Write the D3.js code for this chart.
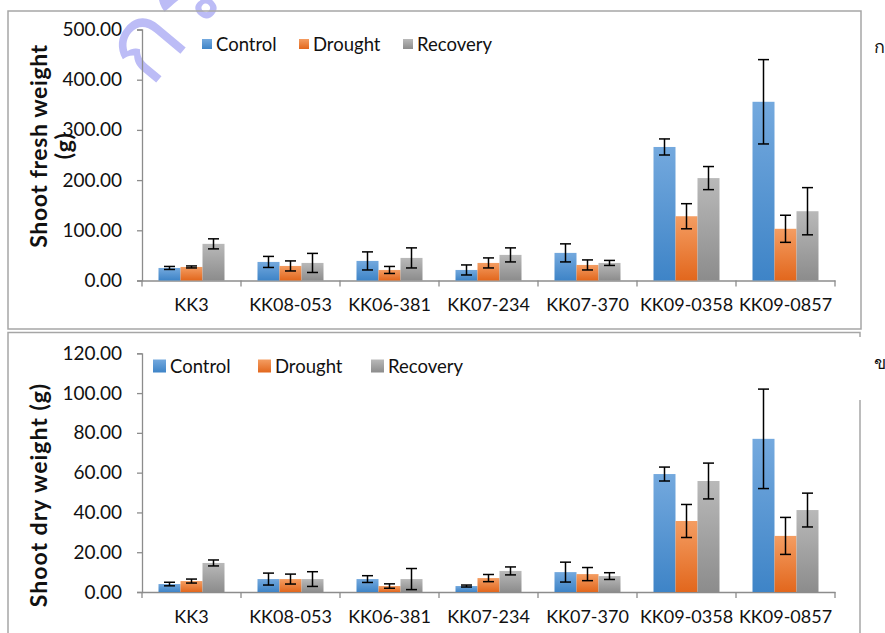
<!DOCTYPE html>
<html>
<head>
<meta charset="utf-8">
<script src="https://cdn.jsdelivr.net/npm/d3@7"></script>
<style>
  body { margin: 0; background: #ffffff; }
  svg { display: block; }
  text { font-family: Lato, "Liberation Sans", sans-serif; fill: #111; }
</style>
</head>
<body>
<svg id="chart"></svg>
<script>
// categories (cultivars)
var categories = ["KK3", "KK08-053", "KK06-381", "KK07-234", "KK07-370", "KK09-0358", "KK09-0857"];
var seriesNames = ["Control", "Drought", "Recovery"];

// shoot fresh weight (g)
var freshControl = [25, 37, 39, 21, 55, 266, 356];
var freshControlErr = [3, 11, 18, 10, 18, 16, 84];
var freshDrought = [27, 29, 21, 35, 31, 128, 103];
var freshDroughtErr = [2, 10, 7, 10, 10, 25, 27];
var freshRecovery = [73, 35, 45, 51, 35, 204, 138];
var freshRecoveryErr = [10, 19, 20, 14, 5, 23, 47];

// shoot dry weight (g)
var dryControl = [4.0, 6.5, 6.5, 3.0, 10.0, 59.3, 77.0];
var dryControlErr = [0.9, 3.0, 1.7, 0.5, 5.0, 3.5, 25.0];
var dryDrought = [5.5, 6.5, 3.0, 7.0, 9.0, 35.7, 28.2];
var dryDroughtErr = [1.0, 2.5, 1.1, 1.8, 3.3, 8.3, 9.3];
var dryRecovery = [14.6, 6.5, 6.5, 10.6, 8.0, 55.8, 41.2];
var dryRecoveryErr = [1.5, 3.7, 5.3, 2.0, 1.7, 9.0, 8.5];

// tick values
var freshTicks = [0, 100, 200, 300, 400, 500];
var dryTicks = [0, 20, 40, 60, 80, 100, 120];

var width = 885, height = 633;
var svg = d3.select('#chart')
    .attr('width', width)
    .attr('height', height);

// bar gradients (light top -> dark bottom)
var gradColors = [
    ['#74a9de', '#3e84c7'],
    ['#f49d62', '#e2671d'],
    ['#b9b9b9', '#8c8c8c']
];
var defs = svg.append('defs');
gradColors.forEach(function(c, i) {
    var g = defs.append('linearGradient')
        .attr('id', 'grad' + i)
        .attr('x1', 0).attr('y1', 0).attr('x2', 0).attr('y2', 1);
    g.append('stop').attr('offset', '0%').attr('stop-color', c[0]);
    g.append('stop').attr('offset', '100%').attr('stop-color', c[1]);
});

// watermark
svg.append('text')
    .attr('transform', 'translate(150,90) rotate(-50)')
    .style('font-family', '"Noto Sans", "DejaVu Sans", sans-serif')
    .style('font-size', '105px')
    .style('fill', '#bcbcf6')
    .text('กรมวิชาการเกษตร');

// frames
var frameColor = '#a6a6a6';
svg.append('rect')
    .attr('x', 8).attr('y', 11)
    .attr('width', 853).attr('height', 318)
    .attr('fill', 'none')
    .attr('stroke', frameColor)
    .attr('stroke-width', 1.5);
svg.append('path')
    .attr('d', 'M8,633 V332.5 H860 V337 M860,400 V633')
    .attr('fill', 'none')
    .attr('stroke', frameColor)
    .attr('stroke-width', 1.5);

// side labels
svg.append('text').attr('x', 874).attr('y', 53)
    .style('font-family', '"Noto Sans", "DejaVu Sans", sans-serif')
    .style('font-size', '18px').text('ก');
svg.append('text').attr('x', 874).attr('y', 369)
    .style('font-family', '"Noto Sans", "DejaVu Sans", sans-serif')
    .style('font-size', '18px').text('ข');

var xScale = d3.scaleBand().domain(categories).range([142, 835]).paddingInner(0).paddingOuter(0);
var subScale = d3.scaleBand().domain(seriesNames).range([0, xScale.bandwidth()])
    .paddingInner(0).paddingOuter(0.75);

function drawPanel(cfg) {
    var g = svg.append('g');
    var yScale = d3.scaleLinear().domain(cfg.domain).range([cfg.y0, cfg.y1]);

    // y axis
    var yAxis = d3.axisLeft(yScale).tickValues(cfg.ticks)
        .tickFormat(d3.format('.2f')).tickSize(5).tickPadding(15);
    var gy = g.append('g')
        .attr('transform', 'translate(142,0)')
        .call(yAxis);
    gy.select('.domain').attr('stroke', '#8c8c8c').attr('stroke-width', 1.3);
    gy.selectAll('.tick line').attr('stroke', '#8c8c8c').attr('stroke-width', 1.3);
    gy.selectAll('.tick text')
        .style('font-family', 'Lato, sans-serif')
        .style('font-size', '19px')
        .attr('fill', '#111');

    // x axis
    var xAxis = d3.axisBottom(xScale).tickSize(0).tickPadding(18);
    var gx = g.append('g')
        .attr('transform', 'translate(0,' + cfg.y0 + ')')
        .call(xAxis);
    gx.select('.domain').attr('stroke', '#8c8c8c').attr('stroke-width', 1.3);
    gx.selectAll('.tick text')
        .style('font-family', 'Lato, sans-serif')
        .style('font-size', '18px')
        .attr('fill', '#111');
    // category boundary ticks
    var bounds = categories.map(function(c) { return xScale(c); }).concat([xScale.range()[1]]);
    gx.selectAll('.bound')
        .data(bounds)
        .enter().append('line')
        .attr('class', 'bound')
        .attr('x1', function(d) { return d; })
        .attr('x2', function(d) { return d; })
        .attr('y1', 0).attr('y2', 6)
        .attr('stroke', '#8c8c8c').attr('stroke-width', 1.3);

    // bars + error bars
    cfg.series.forEach(function(s, si) {
        var rows = categories.map(function(c, i) {
            return { cat: c, v: s.values[i], e: s.errs[i] };
        });
        var sx = function(d) { return xScale(d.cat) + subScale(seriesNames[si]); };
        var bw = subScale.bandwidth();

        g.selectAll('.bar' + si)
            .data(rows)
            .enter().append('rect')
            .attr('class', 'bar' + si)
            .attr('x', sx)
            .attr('width', bw)
            .attr('y', function(d) { return yScale(d.v); })
            .attr('height', function(d) { return cfg.y0 - yScale(d.v); })
            .attr('fill', 'url(#grad' + si + ')');

        var eb = g.selectAll('.err' + si)
            .data(rows)
            .enter().append('g')
            .attr('class', 'err' + si)
            .attr('stroke', '#000')
            .attr('stroke-width', 1.5);
        eb.append('line')
            .attr('x1', function(d) { return sx(d) + bw / 2; })
            .attr('x2', function(d) { return sx(d) + bw / 2; })
            .attr('y1', function(d) { return yScale(d.v + d.e); })
            .attr('y2', function(d) { return yScale(d.v - d.e); });
        eb.selectAll('.cap')
            .data(function(d) { return [d.v + d.e, d.v - d.e].map(function(y) { return { x: sx(d) + bw / 2, y: y }; }); })
            .enter().append('line')
            .attr('class', 'cap')
            .attr('x1', function(d) { return d.x - 5.5; })
            .attr('x2', function(d) { return d.x + 5.5; })
            .attr('y1', function(d) { return yScale(d.y); })
            .attr('y2', function(d) { return yScale(d.y); });
    });

    // y title
    cfg.title.forEach(function(t) {
        g.append('text')
            .attr('transform', 'translate(' + t.x + ',' + cfg.titleY + ') rotate(-90)')
            .attr('text-anchor', 'middle')
            .style('font-family', 'Lato, sans-serif')
            .style('font-weight', 'bold')
            .style('font-size', '23px')
            .style('letter-spacing', cfg.titleSpacing)
            .text(t.text);
    });

    // legend
    var lg = g.append('g').attr('transform', 'translate(0,' + cfg.legendY + ')');
    cfg.legendX.forEach(function(lx, i) {
        lg.append('rect')
            .attr('x', lx).attr('y', -cfg.sw / 2)
            .attr('width', cfg.sw).attr('height', cfg.sw)
            .attr('fill', 'url(#grad' + i + ')');
        lg.append('text')
            .attr('x', lx + cfg.sw + 4).attr('y', 6.5)
            .style('font-family', 'Lato, sans-serif')
            .style('font-size', '18.5px')
            .text(seriesNames[i]);
    });
}

drawPanel({
    domain: [0, 500], y0: 280.5, y1: 29.5, ticks: freshTicks,
    series: [
        { values: freshControl, errs: freshControlErr },
        { values: freshDrought, errs: freshDroughtErr },
        { values: freshRecovery, errs: freshRecoveryErr }
    ],
    title: [{ x: 47, text: 'Shoot fresh weight' }, { x: 72, text: '(g)' }],
    titleY: 146, titleSpacing: '0.6px',
    legendX: [202, 299, 403], legendY: 44, sw: 10
});

drawPanel({
    domain: [0, 120], y0: 592, y1: 353.3, ticks: dryTicks,
    series: [
        { values: dryControl, errs: dryControlErr },
        { values: dryDrought, errs: dryDroughtErr },
        { values: dryRecovery, errs: dryRecoveryErr }
    ],
    title: [{ x: 47, text: 'Shoot dry weight (g)' }],
    titleY: 495, titleSpacing: '1px',
    legendX: [153, 258, 371], legendY: 366, sw: 13
});
</script>
</body>
</html>
